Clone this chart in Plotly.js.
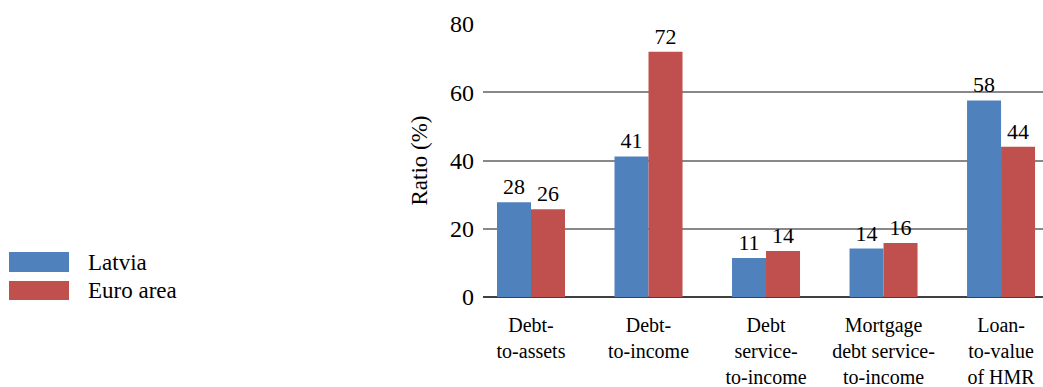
<!DOCTYPE html>
<html>
<head>
<meta charset="utf-8">
<script src="https://cdn.plot.ly/plotly-3.0.1.min.js"></script>
<style>html,body{margin:0;padding:0;background:#fff;}</style>
</head>
<body>
<div id="chart" style="width:1043px;height:387px;"></div>
<script>
const categories = [
  "Debt-<br>to-assets",
  "Debt-<br>to-income",
  "Debt<br>service-<br>to-income",
  "Mortgage<br>debt service-<br>to-income",
  "Loan-<br>to-value<br>of HMR"
];
const latvia = [27.8, 41.2, 11.4, 14.2, 57.6];
const euroArea = [25.7, 71.9, 13.5, 15.8, 44.0];
const seriesNames = ["Latvia", "Euro area"];
const colors = ["#4F81BD", "#C0504D"];
const yTicks = [0, 20, 40, 60, 80];

const FONT = "Liberation Serif, Times New Roman, serif";

const traces = [latvia, euroArea].map((vals, i) => ({
  type: "bar",
  name: seriesNames[i],
  x: categories,
  y: vals,
  text: vals.map(v => String(Math.round(v))),
  textposition: "outside",
  textfont: {family: FONT, size: 22, color: "#000"},
  constraintext: "none",
  cliponaxis: false,
  marker: {color: colors[i]},
  showlegend: false,
  hoverinfo: "x+y"
}));

// legend drawn as paper-positioned boxes and labels
const legendBoxes = [[0.0916, 0.1648], [-0.011, 0.0586]];
const shapes = legendBoxes.map((b, i) => ({
  type: "rect", xref: "paper", yref: "paper",
  x0: (9 - 483) / 560, x1: (69 - 483) / 560, y0: b[0], y1: b[1],
  fillcolor: colors[i], line: {width: 0}
}));
const annotations = seriesNames.map((n, i) => ({
  xref: "paper", yref: "paper", x: (86 - 483) / 560, y: (legendBoxes[i][0] + legendBoxes[i][1]) / 2,
  xanchor: "left", yanchor: "middle", showarrow: false,
  text: n, font: {family: FONT, size: 23, color: "#000"}
}));

const layout = {
  width: 1043, height: 387,
  margin: {l: 483, r: 0, t: 24, b: 90, pad: 0},
  paper_bgcolor: "#fff", plot_bgcolor: "#fff",
  font: {family: FONT, color: "#000"},
  barmode: "group",
  bargap: 0.4213,
  bargroupgap: 0,
  xaxis: {
    type: "category",
    range: [-0.4085, 4.357],
    showgrid: false, zeroline: false,
    showline: false,
    ticks: "",
    tickangle: 0,
    tickfont: {family: FONT, size: 20, color: "#000"},
    ticklabelstandoff: 14,
    automargin: false,
    fixedrange: true
  },
  yaxis: {
    range: [0, 80],
    tickvals: yTicks,
    showgrid: true, gridcolor: "#888888", gridwidth: 1.5,
    zeroline: true, zerolinecolor: "#404040", zerolinewidth: 1.5,
    showline: false, ticks: "",
    tickfont: {family: FONT, size: 24, color: "#000"},
    ticklabelstandoff: 8,
    title: {text: "Ratio (%)", font: {family: FONT, size: 23, color: "#000"}, standoff: 15},
    automargin: true,
    fixedrange: true
  },
  shapes: shapes,
  annotations: annotations,
  showlegend: false
};

Plotly.newPlot("chart", traces, layout, {displayModeBar: false, responsive: false});
</script>
</body>
</html>
